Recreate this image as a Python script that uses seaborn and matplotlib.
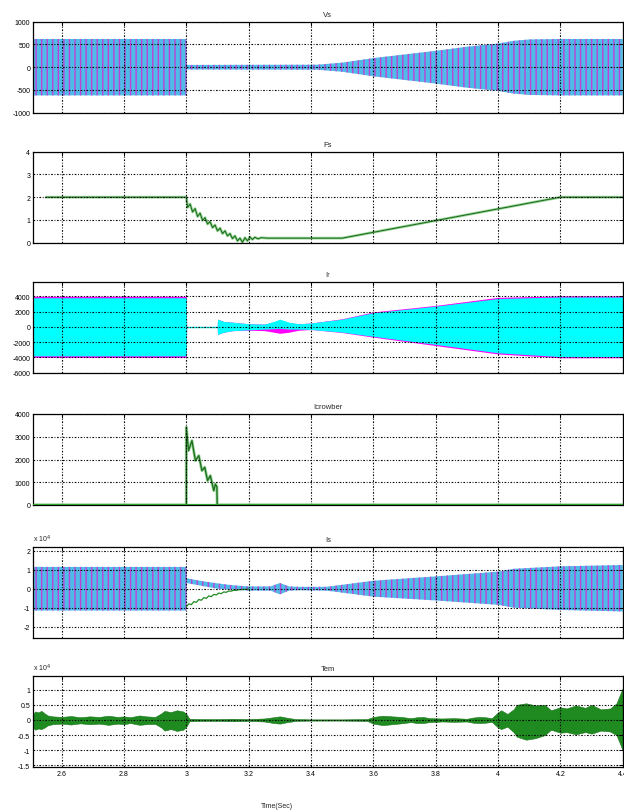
import numpy as np
import pandas as pd
import matplotlib
matplotlib.use("Agg")
import matplotlib.pyplot as plt
from matplotlib.ticker import FuncFormatter
import seaborn as sns

# -----------------------------
# Values (envelopes / key points)
# -----------------------------

x_ticks = [2.6, 2.8, 3.0, 3.2, 3.4, 3.6, 3.8, 4.0, 4.2, 4.4]

# Vs : amplitude of the 3-phase stator voltage band (V)
vs_t = [2.508, 3.000, 3.001, 3.420, 3.500, 3.600, 3.700, 3.800, 3.900, 4.000, 4.050, 4.100, 4.200, 4.400]
vs_amp = [620, 620, 50, 55, 100, 200, 280, 360, 450, 520, 580, 610, 620, 620]

# Fs : stator frequency trace
fs_t = [2.550, 3.000, 3.004, 3.012, 3.020, 3.028, 3.036, 3.044, 3.052, 3.060,
        3.068, 3.076, 3.084, 3.092, 3.100, 3.108, 3.116, 3.124, 3.132, 3.140,
        3.148, 3.156, 3.164, 3.172, 3.180, 3.188, 3.196, 3.204, 3.212, 3.220,
        3.230, 3.240, 3.260, 3.300, 3.500, 4.200, 4.400]
fs_val = [2.00, 2.00, 1.55, 1.70, 1.35, 1.50, 1.15, 1.30, 0.98, 1.10,
          0.82, 0.93, 0.66, 0.78, 0.52, 0.64, 0.40, 0.52, 0.30, 0.40,
          0.18, 0.30, 0.08, 0.20, 0.02, 0.22, 0.08, 0.25, 0.14, 0.24,
          0.17, 0.22, 0.20, 0.20, 0.20, 2.00, 2.00]

# Ir : rotor current band (A)
ir_t = [2.508, 3.000, 3.001, 3.099, 3.100, 3.120, 3.150, 3.200, 3.250, 3.280,
        3.300, 3.330, 3.360, 3.400, 3.500, 3.600, 3.800, 4.000, 4.200, 4.400]
ir_up = [3800, 3800, 0, 0, 1000, 700, 600, 400, 350, 700,
         1000, 600, 400, 500, 1000, 1850, 2700, 3700, 3900, 3900]
ir_lo = [-3800, -3800, 0, 0, -1000, -700, -500, -400, -300, -250,
         -200, -300, -300, -350, -700, -1250, -2300, -3400, -3900, -3900]
ir_mag_up = [4000, 4000, 0, 0, 1000, 700, 600, 400, 350, 600,
             700, 550, 400, 500, 1050, 1950, 2800, 3850, 4050, 4050]
ir_mag_lo = [-4000, -4000, 0, 0, -1000, -700, -500, -450, -500, -700,
             -850, -700, -450, -350, -750, -1350, -2450, -3550, -4050, -4050]

# Icrowbar : crowbar current (A)
ic_t = [2.508, 3.000, 3.000, 3.007, 3.018, 3.029, 3.040, 3.050, 3.059, 3.068,
        3.077, 3.088, 3.093, 3.098, 3.099, 4.400]
ic_val = [0, 0, 3420, 2390, 2830, 1950, 2170, 1510, 1660, 1070,
          1290, 630, 920, 800, 0, 0]

# Is : stator current band (x 10^4 A)
is_t = [2.508, 3.000, 3.001, 3.050, 3.100, 3.150, 3.200, 3.270, 3.300, 3.330,
        3.360, 3.450, 3.600, 3.800, 4.000, 4.050, 4.200, 4.400]
is_up = [1.15, 1.15, 0.55, 0.40, 0.28, 0.18, 0.12, 0.12, 0.30, 0.12,
         0.10, 0.10, 0.42, 0.65, 0.90, 1.05, 1.18, 1.25]
is_lo = [-1.15, -1.15, 0.30, 0.15, 0.00, -0.05, -0.10, -0.10, -0.30, -0.10,
         -0.08, -0.10, -0.42, -0.62, -0.85, -1.00, -1.12, -1.20]
is_dc_t = [3.000, 3.008, 3.016, 3.024, 3.032, 3.040, 3.048, 3.056, 3.064, 3.072,
           3.080, 3.088, 3.096, 3.104, 3.112, 3.120, 3.128, 3.136, 3.144, 3.152,
           3.160, 3.170, 3.200]
is_dc = [-0.95, -0.80, -0.84, -0.68, -0.72, -0.57, -0.61, -0.47, -0.51, -0.38,
         -0.42, -0.30, -0.33, -0.23, -0.26, -0.17, -0.19, -0.12, -0.13, -0.08,
         -0.09, -0.05, -0.02]

# Tem : electromagnetic torque band (x 10^4 N.m)
tem_t = [2.508, 2.515, 2.525, 2.535, 2.545, 2.555, 2.570, 2.600,
         2.630, 2.660, 2.690, 2.720, 2.750, 2.780, 2.800, 2.820,
         2.850, 2.870, 2.900, 2.920, 2.930, 2.950, 2.970, 2.990,
         3.000, 3.010, 3.050, 3.100, 3.150, 3.200, 3.250, 3.280,
         3.300, 3.320, 3.350, 3.400, 3.500, 3.580, 3.600, 3.630,
         3.660, 3.690, 3.720, 3.740, 3.760, 3.780, 3.820, 3.860,
         3.900, 3.920, 3.940, 3.960, 3.980, 4.000, 4.010, 4.030,
         4.050, 4.060, 4.090, 4.120, 4.150, 4.170, 4.200, 4.220,
         4.250, 4.280, 4.300, 4.330, 4.360, 4.380, 4.390, 4.400]
tem_up = [0.20, 0.28, 0.25, 0.30, 0.22, 0.15, 0.12, 0.10,
          0.13, 0.09, 0.12, 0.10, 0.14, 0.10, 0.12, 0.09,
          0.15, 0.12, 0.10, 0.22, 0.30, 0.26, 0.32, 0.28,
          0.20, 0.04, 0.03, 0.03, 0.04, 0.03, 0.05, 0.09,
          0.12, 0.08, 0.03, 0.02, 0.02, 0.03, 0.10, 0.14,
          0.12, 0.10, 0.06, 0.09, 0.10, 0.06, 0.05, 0.06,
          0.04, 0.08, 0.10, 0.09, 0.06, 0.25, 0.32, 0.20,
          0.35, 0.50, 0.55, 0.48, 0.50, 0.32, 0.42, 0.38,
          0.48, 0.40, 0.50, 0.35, 0.38, 0.55, 0.80, 1.05]
tem_lo = [-0.25, -0.32, -0.28, -0.30, -0.25, -0.18, -0.14, -0.12,
          -0.15, -0.11, -0.14, -0.12, -0.16, -0.12, -0.14, -0.10,
          -0.16, -0.14, -0.13, -0.25, -0.35, -0.30, -0.36, -0.32,
          -0.22, -0.04, -0.03, -0.03, -0.04, -0.03, -0.05, -0.10,
          -0.12, -0.08, -0.03, -0.02, -0.02, -0.03, -0.12, -0.17,
          -0.14, -0.11, -0.07, -0.10, -0.10, -0.07, -0.05, -0.06,
          -0.05, -0.09, -0.10, -0.09, -0.06, -0.25, -0.30, -0.22,
          -0.40, -0.55, -0.65, -0.60, -0.50, -0.32, -0.42, -0.40,
          -0.47, -0.40, -0.45, -0.35, -0.38, -0.50, -0.75, -1.00]

# -----------------------------
# Style
# -----------------------------

sns.set_theme(style="white")
plt.rcParams["font.family"] = ["Liberation Sans", "DejaVu Sans"]
plt.rcParams["axes.unicode_minus"] = False
plt.rcParams["hatch.linewidth"] = 1.0

W, H = 624, 812
fig = plt.figure(figsize=(W / 100, H / 100), dpi=100)

tops = [22.7, 152.7, 282.7, 415, 548, 677]
ax_h = 91
axes = [fig.add_axes([33 / W, 1 - (t + ax_h) / H, 589.7 / W, ax_h / H]) for t in tops]

fmt = FuncFormatter(lambda v, p: f"{v:g}")


def style(ax, title, ylim, yticks, last=False):
    ax.set_xlim(2.508, 4.4)
    ax.set_xticks(x_ticks)
    ax.set_ylim(*ylim)
    ax.set_yticks(yticks)
    ax.yaxis.set_major_formatter(fmt)
    ax.xaxis.set_major_formatter(fmt)
    ax.grid(True, color="black", linestyle=(0, (1.5, 1.5, 0.8, 1.5)), linewidth=0.8)
    ax.set_axisbelow(False)
    ax.tick_params(direction="in", top=True, right=True, length=3, width=0.7,
                   labelsize=5, pad=2, colors="black")
    if not last:
        ax.tick_params(labelbottom=False)
    for s in ax.spines.values():
        s.set_color("black")
        s.set_linewidth(0.9)
    ax.set_title(title, fontsize=5.5, pad=4)
    ax.set_xlabel("")
    ax.set_ylabel("")


# Vs
ax = axes[0]
vs_amp_a = np.array(vs_amp)
ax.fill_between(vs_t, -vs_amp_a, vs_amp_a, facecolor="#4fbce8",
                edgecolor="#c040d8", hatch="|||", linewidth=0)
style(ax, "Vs", (-1000, 1000), [-1000, -500, 0, 500, 1000])

# Fs
ax = axes[1]
fs_df = pd.DataFrame({"t": fs_t, "f": fs_val})
sns.lineplot(data=fs_df, x="t", y="f", ax=ax, color="#9fd89f", linewidth=2.0,
             estimator=None, sort=False)
sns.lineplot(data=fs_df, x="t", y="f", ax=ax, color="#1f6f1f", linewidth=0.8,
             estimator=None, sort=False)
style(ax, "Fs", (0, 4), [0, 1, 2, 3, 4])

# Ir
ax = axes[2]
ax.fill_between(ir_t, ir_mag_lo, ir_mag_up, color="#ff00ff", linewidth=0)
ax.fill_between(ir_t, ir_lo, ir_up, color="#00ffff", linewidth=0)
ir_df = pd.DataFrame({"t": [3.0, 3.1], "i": [0, 0]})
sns.lineplot(data=ir_df, x="t", y="i", ax=ax, color="#00e5e5", linewidth=1.0,
             estimator=None)
style(ax, "Ir", (-6000, 5900), [-6000, -4000, -2000, 0, 2000, 4000])

# Icrowbar
ax = axes[3]
ic_df = pd.DataFrame({"t": ic_t, "i": ic_val})
sns.lineplot(data=ic_df, x="t", y="i", ax=ax, color="#9fd89f", linewidth=2.2,
             estimator=None, sort=False)
sns.lineplot(data=ic_df, x="t", y="i", ax=ax, color="#1f6f1f", linewidth=1.0,
             estimator=None, sort=False)
ax.axhline(0, color="#2ea02e", linewidth=1.6, zorder=3)
style(ax, "Icrowber", (0, 4000), [0, 1000, 2000, 3000, 4000])

# Is
ax = axes[4]
ax.fill_between(is_t, is_lo, is_up, facecolor="#4fbce8",
                edgecolor="#c040d8", hatch="|||", linewidth=0)
dc_df = pd.DataFrame({"t": is_dc_t, "i": is_dc})
sns.lineplot(data=dc_df, x="t", y="i", ax=ax, color="#1f8a1f", linewidth=0.9,
             estimator=None, sort=False)
style(ax, "Is", (-2.6, 2.2), [-2, -1, 0, 1, 2])
ax.text(0, 1.035, r"x 10$^4$", transform=ax.transAxes, fontsize=5, ha="left", va="bottom")

# Tem
ax = axes[5]
ax.fill_between(tem_t, tem_lo, tem_up, color="#1f8a1f", linewidth=0.4, edgecolor="#17751a")
style(ax, "Tem", (-1.55, 1.45), [-1.5, -1, -0.5, 0, 0.5, 1], last=True)
ax.text(0, 1.035, r"x 10$^4$", transform=ax.transAxes, fontsize=5, ha="left", va="bottom")

fig.text(277 / W, 1 - 807 / H, "Time(Sec)", fontsize=5, ha="center", va="center")

fig.savefig("out.png", dpi=100, facecolor="white")
